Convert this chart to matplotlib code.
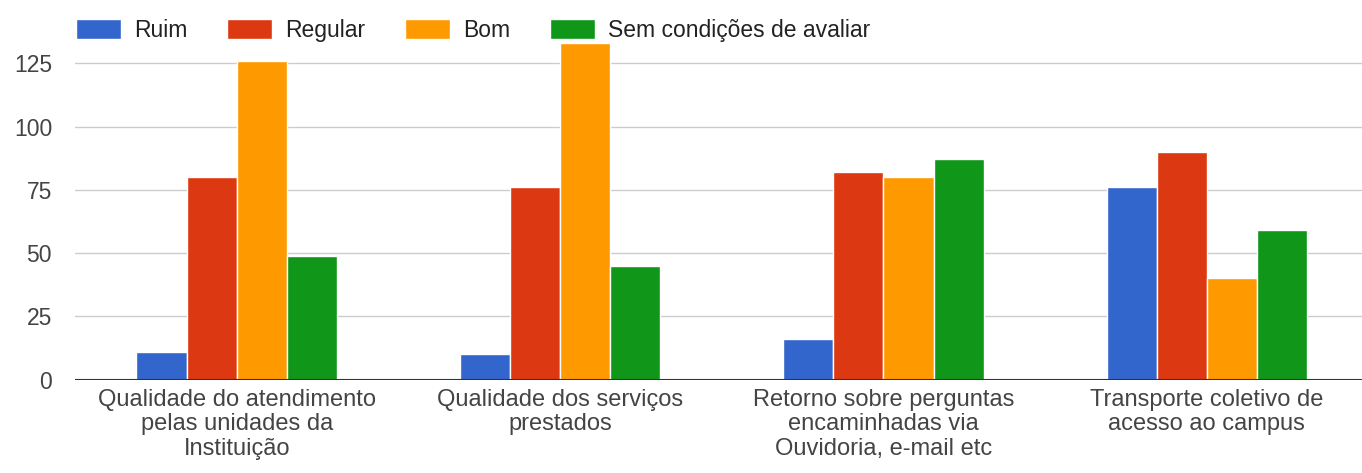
import numpy as np
import matplotlib.pyplot as plt

plt.rcParams['font.family'] = ['Liberation Sans', 'DejaVu Sans']

categorias = ['Qualidade do atendimento\npelas unidades da\nInstituição',
              'Qualidade dos serviços\nprestados',
              'Retorno sobre perguntas\nencaminhadas via\nOuvidoria, e-mail etc',
              'Transporte coletivo de\nacesso ao campus']
series = ['Ruim', 'Regular', 'Bom', 'Sem condições de avaliar']
ruim = [11, 10, 16, 76]
regular = [80, 76, 82, 90]
bom = [126, 133, 80, 40]
sem_cond = [49, 45, 87, 59]
cores = ['#3366cc', '#dc3912', '#ff9900', '#109618']
yticks = [0, 25, 50, 75, 100, 125]

valores = [ruim, regular, bom, sem_cond]

W, H = 1362, 473
fig = plt.figure(figsize=(W/100, H/100), dpi=100)
ax = fig.add_axes([75/W, 1 - 379.5/H, 1 - 75/W, 344.5/H])

x = np.arange(len(categorias))
largura = 0.155
for i in range(len(series)):
    ax.bar(x + (i - 1.5)*largura, valores[i], largura, color=cores[i],
           edgecolor='white', linewidth=1, label=series[i], zorder=3)

ax.set_xlim(-0.5, 3.48)
ax.set_ylim(0, 136.2)
ax.set_yticks(yticks)
ax.set_xticks(x)
ax.set_xticklabels(categorias, fontsize=17, color='#444444', linespacing=1.17)
ax.tick_params(axis='y', length=0, pad=16.5, labelsize=16.5, labelcolor='#444444')
ax.tick_params(axis='x', length=0, pad=6.5)
ax.grid(axis='y', color='#cccccc', linewidth=1, zorder=0)
for s in ax.spines.values():
    s.set_visible(False)
ax.axhline(0, color='#333333', linewidth=1.5, zorder=4)

fig.legend(loc='center left', bbox_to_anchor=(76/W, 1 - 30.5/H), ncol=4,
           frameon=False, fontsize=16.5, handlelength=1.95, handleheight=1.0,
           handletextpad=0.57, columnspacing=1.75, borderpad=0, borderaxespad=0,
           labelcolor='#222222')

fig.savefig('out.png', dpi=100)
